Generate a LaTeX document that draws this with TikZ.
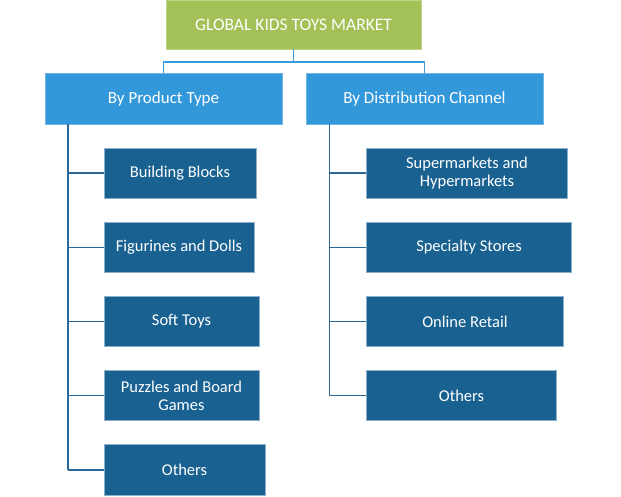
\documentclass[tikz,border=0pt]{standalone}
\usepackage{fontspec}
\setmainfont{Carlito}
\begin{document}
\begin{tikzpicture}[x=1pt,y=-1pt,
  box/.style={rectangle,line width=0.8pt,text=white,align=center,inner sep=0pt},
  topbox/.style={box,fill=topgreen,draw=topgreen!70!white,font=\fontsize{17.5}{20}\selectfont},
  lvlone/.style={box,fill=midblue,draw=midblue!70!white,font=\fontsize{17}{20}\selectfont},
  lvltwo/.style={box,fill=darkblue,draw=darkblue!50!white,font=\fontsize{16.5}{18}\selectfont},
  conn/.style={line width=1.3pt},
]
\definecolor{topgreen}{HTML}{A3C157}
\definecolor{midblue}{HTML}{3398DA}
\definecolor{darkblue}{HTML}{186191}
\definecolor{toplink}{HTML}{3A9BDC}
\definecolor{spine}{HTML}{2A6899}
\useasboundingbox (0,0) rectangle (621,496);

\node[topbox,minimum width=255pt,minimum height=49pt] (root) at (293.5,24.5) {GLOBAL KIDS TOYS MARKET};
\node[lvlone,minimum width=237pt,minimum height=51pt] (pt) at (163.5,98.5) {By Product Type};
\node[lvlone,minimum width=237pt,minimum height=51pt] (dc) at (424.5,98.5) {By Distribution Channel};

\node[lvltwo,minimum width=152pt,minimum height=50pt] (bb) at (180,173) {Building Blocks};
\node[lvltwo,minimum width=150pt,minimum height=50pt] (fd) at (179,247.5) {Figurines and Dolls};
\node[lvltwo,minimum width=155pt,minimum height=50pt] (st) at (181.5,321.5) {Soft Toys};
\node[lvltwo,minimum width=155pt,minimum height=50pt] (pb) at (181.5,395.5) {Puzzles and Board\\Games};
\node[lvltwo,minimum width=161pt,minimum height=51pt] (ot) at (184.5,470) {Others};

\node[lvltwo,minimum width=201pt,minimum height=50pt] (sh) at (467,173) {Supermarkets and\\Hypermarkets};
\node[lvltwo,minimum width=205pt,minimum height=50pt] (ss) at (469,247.5) {Specialty Stores};
\node[lvltwo,minimum width=197pt,minimum height=50pt] (or) at (465,321.5) {Online Retail};
\node[lvltwo,minimum width=190pt,minimum height=50pt] (od) at (461.5,395.5) {Others};

\coordinate (hub) at (293.5,62);
\draw[conn,toplink] (root.south) -- (hub);
\draw[conn,toplink] (pt.north) |- (hub) -| (dc.north);

\coordinate (lsp) at (68,470);
\draw[conn,spine] (pt.south -| lsp) -- (lsp);
\foreach \n in {bb,fd,st,pb,ot} \draw[conn,spine] (\n.west) -- (\n.west -| lsp);

\coordinate (rsp) at (329.5,395.5);
\draw[conn,spine] (dc.south -| rsp) -- (rsp);
\foreach \n in {sh,ss,or,od} \draw[conn,spine] (\n.west) -- (\n.west -| rsp);
\end{tikzpicture}
\end{document}
